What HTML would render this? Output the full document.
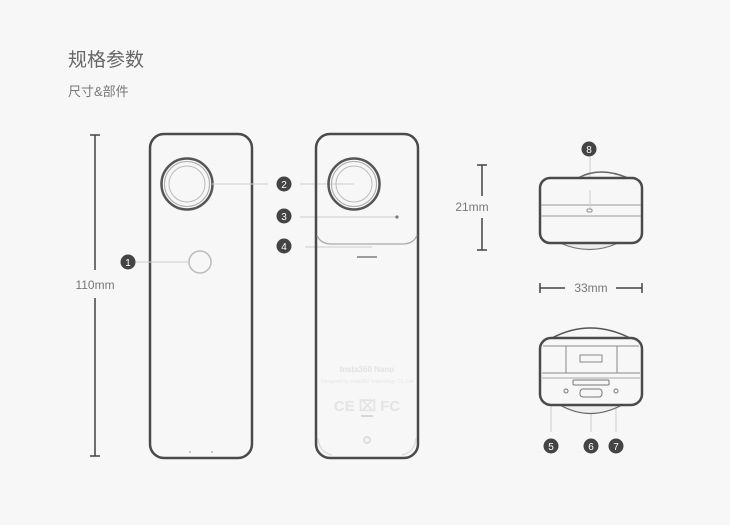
<!DOCTYPE html>
<html><head><meta charset="utf-8"><style>
body{margin:0;background:#f7f7f7;}
svg{display:block;font-family:"Liberation Sans","Noto Sans CJK SC",sans-serif;}
</style></head><body>
<svg width="730" height="525" viewBox="0 0 730 525">
<rect width="730" height="525" fill="#f7f7f7"/>
<text x="68" y="66" font-size="19" fill="#666">规格参数</text>
<text x="68" y="96" font-size="13" fill="#777">尺寸&amp;部件</text>

<g stroke="#444" stroke-width="1.5">
<line x1="95" y1="135" x2="95" y2="270"/><line x1="95" y1="298" x2="95" y2="456"/>
<line x1="90" y1="135" x2="100" y2="135"/><line x1="90" y1="456" x2="100" y2="456"/>
<line x1="482" y1="165" x2="482" y2="196"/><line x1="482" y1="218" x2="482" y2="250"/>
<line x1="477" y1="165" x2="487" y2="165"/><line x1="477" y1="250" x2="487" y2="250"/>
<line x1="540" y1="288" x2="565" y2="288"/><line x1="616" y1="288" x2="642" y2="288"/>
<line x1="540" y1="283" x2="540" y2="293"/><line x1="642" y1="283" x2="642" y2="293"/>
</g>
<text x="95" y="289" font-size="12" fill="#777" text-anchor="middle">110mm</text>
<text x="472" y="211" font-size="12" fill="#777" text-anchor="middle">21mm</text>
<text x="591" y="292" font-size="12" fill="#777" text-anchor="middle">33mm</text>

<!-- left device -->
<rect x="150" y="134" width="102" height="324" rx="14" fill="none" stroke="#4a4a4a" stroke-width="2.5"/>
<circle cx="187" cy="184" r="25.5" fill="none" stroke="#555" stroke-width="2.5"/>
<circle cx="187" cy="184" r="22.5" fill="none" stroke="#aaa" stroke-width="1"/>
<circle cx="187" cy="184" r="18" fill="none" stroke="#bbb" stroke-width="1"/>
<circle cx="200" cy="262" r="11" fill="none" stroke="#bbb" stroke-width="1.5"/>
<g stroke="#ccc" stroke-width="1">
<line x1="135" y1="262" x2="189" y2="262"/>
<line x1="212" y1="184" x2="268" y2="184"/>
<line x1="300" y1="184" x2="354" y2="184"/>
<line x1="300" y1="217" x2="397" y2="217"/>
<line x1="305" y1="247" x2="372" y2="247"/>
<line x1="590" y1="157" x2="590" y2="210"/>
<line x1="551" y1="432" x2="551" y2="400"/><line x1="551" y1="400" x2="566" y2="392"/>
<line x1="591" y1="432" x2="591" y2="392"/>
<line x1="616" y1="432" x2="616" y2="392"/><line x1="616" y1="392" x2="605" y2="390"/>
</g>
<line x1="189" y1="452" x2="191" y2="452" stroke="#999"/><line x1="211" y1="452" x2="213" y2="452" stroke="#999"/>

<!-- right device -->
<rect x="316" y="134" width="102" height="324" rx="14" fill="none" stroke="#4a4a4a" stroke-width="2.5"/>
<circle cx="354" cy="184" r="25.5" fill="none" stroke="#555" stroke-width="2.5"/>
<circle cx="354" cy="184" r="22.5" fill="none" stroke="#aaa" stroke-width="1"/>
<circle cx="354" cy="184" r="18" fill="none" stroke="#bbb" stroke-width="1"/>
<circle cx="397" cy="217" r="1.6" fill="#777"/>
<path d="M317 235 Q320 244 332 244 L402 244 Q414 244 417 235" fill="none" stroke="#aaa" stroke-width="1.2"/>
<line x1="357" y1="257" x2="377" y2="257" stroke="#666" stroke-width="1.2"/>
<text x="367" y="372" font-size="8" font-weight="bold" fill="#e2e2e2" text-anchor="middle">Insta360 Nano</text>
<text x="367" y="383" font-size="5" fill="#e6e6e6" text-anchor="middle">Designed by Insta360 Technology Co.,Ltd</text>
<text x="367" y="411" font-size="15" font-weight="bold" fill="#e4e4e4" text-anchor="middle">CE ⌧ FC</text>
<line x1="361" y1="416" x2="373" y2="416" stroke="#ccc" stroke-width="1.5"/>
<circle cx="367" cy="440" r="3" fill="none" stroke="#ddd" stroke-width="2"/>
<path d="M318 438 Q319 452 332 455 M416 438 Q415 452 402 455" fill="none" stroke="#ddd" stroke-width="1.5"/>

<!-- top view -->
<path d="M578 178 Q600 166 628 178" fill="none" stroke="#666" stroke-width="1.5"/>
<path d="M560 243 Q590 256 618 243" fill="#eee" stroke="#777" stroke-width="1.2"/>
<rect x="540" y="178" width="102" height="65" rx="10" fill="#f7f7f7" stroke="#4a4a4a" stroke-width="2.5"/>
<line x1="541" y1="205" x2="641" y2="205" stroke="#999"/>
<line x1="541" y1="216" x2="641" y2="216" stroke="#999"/>
<line x1="590" y1="190" x2="590" y2="209" stroke="#ccc"/>
<rect x="587" y="209" width="5" height="3" rx="1" fill="none" stroke="#777" stroke-width="0.8"/>

<!-- bottom view -->
<path d="M552 338 Q590 318 630 338" fill="#f7f7f7" stroke="#555" stroke-width="1.5"/>
<path d="M560 405 Q590 422 622 405" fill="#eee" stroke="#666" stroke-width="1.2"/>
<rect x="540" y="338" width="102" height="67" rx="11" fill="#f7f7f7" stroke="#4a4a4a" stroke-width="2.5"/>
<path d="M543 346 L566 346 L566 373 L543 373 M639 346 L617 346 L617 373 L639 373" fill="none" stroke="#888"/>
<rect x="566" y="346" width="51" height="27" fill="none" stroke="#888"/>
<rect x="580" y="355" width="22" height="7" fill="none" stroke="#888"/>
<line x1="542" y1="373" x2="640" y2="373" stroke="#888"/>
<line x1="542" y1="378" x2="640" y2="378" stroke="#aaa"/>
<rect x="573" y="380" width="36" height="5" rx="1" fill="none" stroke="#777"/>
<rect x="580" y="389" width="22" height="8" rx="3" fill="none" stroke="#777"/>
<circle cx="566" cy="391" r="2" fill="none" stroke="#777"/>
<circle cx="616" cy="391" r="2" fill="none" stroke="#777"/>

<g fill="#444">
<circle cx="128" cy="262" r="7.5"/><circle cx="284" cy="184" r="7.5"/><circle cx="284" cy="216" r="7.5"/><circle cx="284" cy="246" r="7.5"/>
<circle cx="589" cy="149" r="7.5"/><circle cx="551" cy="446" r="7.5"/><circle cx="591" cy="446" r="7.5"/><circle cx="616" cy="446" r="7.5"/>
</g>
<g fill="#fff" font-size="10" text-anchor="middle">
<text x="128" y="266">1</text><text x="284" y="188">2</text><text x="284" y="220">3</text><text x="284" y="250">4</text>
<text x="589" y="153">8</text><text x="551" y="450">5</text><text x="591" y="450">6</text><text x="616" y="450">7</text>
</g>
</svg>
</body></html>
